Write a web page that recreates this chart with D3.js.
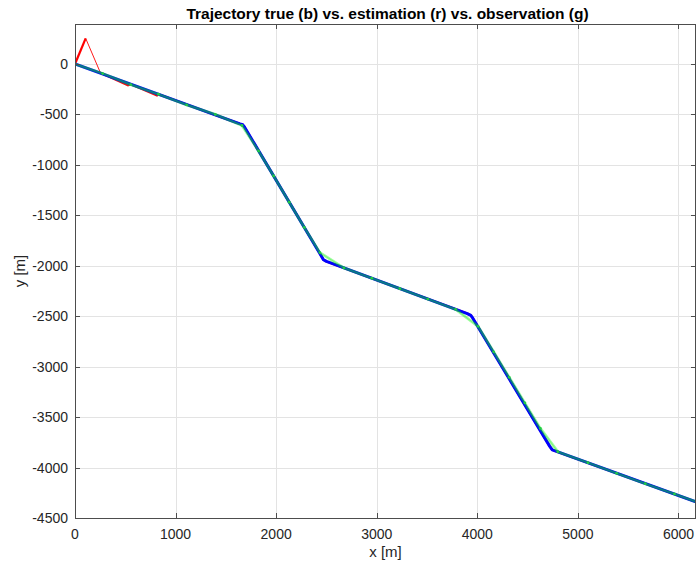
<!DOCTYPE html>
<html><head><meta charset="utf-8">
<script src="https://cdn.jsdelivr.net/npm/d3@7"></script>
<style>body{margin:0;background:#fff}svg{display:block}text{font-family:"Liberation Sans",Arial,Helvetica,sans-serif;fill:#262626}</style>
</head><body>
<script>
// ---- data ----
const titleText = "Trajectory true (b) vs. estimation (r) vs. observation (g)";
const xTicks = [0,1000,2000,3000,4000,5000,6000];
const yTicks = [0,-500,-1000,-1500,-2000,-2500,-3000,-3500,-4000,-4500];
// true trajectory
const trueX = [0,1640,1668,1685,2450,2470,2500,3900,3935,3955,4720,4745,4780,6200];
const trueY = [0,-594,-603,-625,-1905,-1940,-1957,-2474,-2492,-2520,-3790,-3825,-3838,-4349];
// estimation (initial transient, then follows the true path)
const estX = [0,106,252,527,555,815,830,1110,1395,1640,1668,1685,2450,2470,2500,3900,3935,3955,4720,4745,4780,6200];
const estY = [0,254,-86,-212,-202,-312,-300,-402,-505,-594,-603,-625,-1905,-1940,-1957,-2474,-2492,-2520,-3790,-3825,-3838,-4349];
// observations
const obsX = [0,275,555,830,1110,1395,1660,1825,1975,2130,2280,2435,2673,2951,3229,3507,3785,4007,4162,4317,4472,4627,4800,5100,5385,5670,5960,6240];
const obsY = [0,-95,-205,-300,-405,-500,-610,-862,-1110,-1370,-1620,-1870,-2021,-2124,-2227,-2330,-2433,-2600,-2853,-3106,-3359,-3612,-3843,-3952,-4057,-4160,-4262,-4362];

// ---- layout ----
const W = 697, H = 567;
const m = {left:75, right:696, top:24, bottom:518};
const x = d3.scaleLinear().domain([0,6174]).range([m.left,m.right]);
const y = d3.scaleLinear().domain([-4500,396]).range([m.bottom,m.top]);

const svg = d3.select("body").append("svg").attr("width",W).attr("height",H);
svg.append("defs").append("clipPath").attr("id","clip")
  .append("rect").attr("x",m.left).attr("y",m.top).attr("width",m.right-m.left).attr("height",m.bottom-m.top);

// grid
const g = svg.append("g");
g.selectAll(".gx").data(xTicks).enter().append("line")
  .attr("x1",d=>Math.round(x(d))+0.5).attr("x2",d=>Math.round(x(d))+0.5).attr("y1",m.top).attr("y2",m.bottom)
  .attr("stroke","#e3e3e3").attr("stroke-width",1);
g.selectAll(".gy").data(yTicks).enter().append("line")
  .attr("y1",d=>Math.round(y(d))+0.5).attr("y2",d=>Math.round(y(d))+0.5).attr("x1",m.left).attr("x2",m.right)
  .attr("stroke","#e3e3e3").attr("stroke-width",1);

// lines
const pts = (xs,ys)=>xs.map((v,i)=>[v,ys[i]]);
const line = d3.line().x(d=>x(d[0])).y(d=>y(d[1]));
const plot = svg.append("g").attr("clip-path","url(#clip)");
const est = pts(estX,estY);
plot.append("path").attr("d",line(est.slice(1,3))).attr("fill","none").attr("stroke","#ff0000").attr("stroke-width",0.9);
plot.append("path").attr("d",line(est.slice(0,2))).attr("fill","none").attr("stroke","#ff0000").attr("stroke-width",2.2);
plot.append("path").attr("d",line(est.slice(2))).attr("fill","none").attr("stroke","#ee1010").attr("stroke-width",2.2);
plot.append("path").attr("d",line(pts(trueX,trueY))).attr("fill","none").attr("stroke","#0000ff").attr("stroke-width",3).attr("stroke-linejoin","round");
plot.append("path").attr("d",line(pts(obsX,obsY))).attr("fill","none").attr("stroke","#00ff00").attr("stroke-opacity",0.38).attr("stroke-width",2.8);
plot.append("path").attr("d",line(pts(obsX,obsY))).attr("fill","none").attr("stroke","#33cc33").attr("stroke-opacity",0.4).attr("stroke-width",0.8);
plot.selectAll(".ob").data(pts(obsX,obsY)).enter().append("circle")
  .attr("cx",d=>x(d[0])).attr("cy",d=>y(d[1])).attr("r",1.4).attr("fill","#22cc44");

// axes box
const ax = svg.append("g").attr("stroke","#4d4d4d").attr("stroke-width",1).attr("fill","none");
ax.append("rect").attr("x",m.left+0.5).attr("y",m.top+0.5).attr("width",m.right-m.left-1).attr("height",m.bottom-m.top);
const tl = 5;
xTicks.forEach(t=>{
  const px = Math.round(x(t))+0.5;
  ax.append("line").attr("x1",px).attr("x2",px).attr("y1",m.bottom).attr("y2",m.bottom-tl);
  ax.append("line").attr("x1",px).attr("x2",px).attr("y1",m.top).attr("y2",m.top+tl);
});
yTicks.forEach(t=>{
  const py = Math.round(y(t))+0.5;
  ax.append("line").attr("y1",py).attr("y2",py).attr("x1",m.left).attr("x2",m.left+tl);
  ax.append("line").attr("y1",py).attr("y2",py).attr("x1",m.right).attr("x2",m.right-tl);
});

// tick labels
svg.selectAll(".xl").data(xTicks).enter().append("text")
  .attr("x",d=>x(d)).attr("y",539).attr("text-anchor","middle").style("font-size","14px").text(d=>d);
svg.selectAll(".yl").data(yTicks).enter().append("text")
  .attr("x",68).attr("y",d=>y(d)+5).attr("text-anchor","end").style("font-size","14px").text(d=>d);

// labels
svg.append("text").attr("x",(m.left+m.right)/2).attr("y",557).attr("text-anchor","middle").style("font-size","15px").text("x [m]");
svg.append("text").attr("transform",`translate(25,${(m.top+m.bottom)/2}) rotate(-90)`).attr("text-anchor","middle").style("font-size","15px").text("y [m]");
svg.append("text").attr("x",(m.left+m.right)/2+2).attr("y",19).attr("text-anchor","middle").style("font-size","15.5px").style("font-weight","bold").style("fill","#000").text(titleText);
</script>
</body></html>
